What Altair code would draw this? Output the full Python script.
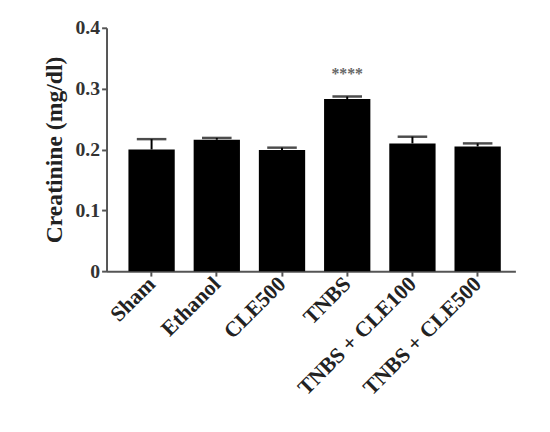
import altair as alt
import pandas as pd

groups = ["Sham", "Ethanol", "CLE500", "TNBS", "TNBS + CLE100", "TNBS + CLE500"]
means = [0.200, 0.216, 0.199, 0.283, 0.210, 0.205]
errors = [0.017, 0.003, 0.004, 0.004, 0.011, 0.005]
sig_labels = ["", "", "", "****", "", ""]
y_ticks = [0, 0.1, 0.2, 0.3, 0.4]

df = pd.DataFrame({"group": groups, "mean": means, "err": errors, "sig": sig_labels})
df["upper"] = df["mean"] + df["err"]
df["star_y"] = df["upper"] + 0.037

FONT = "Liberation Serif"

x = alt.X("group:N", sort=groups, title=None,
          scale=alt.Scale(paddingInner=0.29, paddingOuter=0.28, align=0.6),
          axis=alt.Axis(labelAngle=-45, labelFont=FONT, labelFontSize=22,
                        labelFontWeight="bold", labelColor="#222",
                        labelAlign="right", labelBaseline="middle",
                        labelPadding=4,
                        domainColor="#555", domainWidth=2,
                        tickColor="#555", tickWidth=2, tickSize=5))

y_scale = alt.Scale(domain=[0, 0.4], nice=False)

bars = alt.Chart(df).mark_bar(color="black").encode(
    x=x,
    y=alt.Y("mean:Q", scale=y_scale, title="Creatinine (mg/dl)",
            axis=alt.Axis(values=y_ticks, format="~g", labelFont=FONT,
                          labelFontSize=20, labelFontWeight="bold",
                          labelColor="#333", labelPadding=2,
                          titleFont=FONT, titleFontSize=24,
                          titleFontWeight="bold", titleColor="#222",
                          titlePadding=9,
                          domainColor="#555", domainWidth=2,
                          tickColor="#555", tickWidth=2, tickSize=5,
                          grid=False)),
)

err_rule = alt.Chart(df).mark_rule(color="black", strokeWidth=2).encode(
    x=alt.X("group:N", sort=groups),
    y=alt.Y("mean:Q", scale=y_scale),
    y2="upper:Q",
)

err_cap = alt.Chart(df).mark_tick(color="black", thickness=2.5, size=30).encode(
    x=alt.X("group:N", sort=groups),
    y=alt.Y("upper:Q", scale=y_scale),
)

stars = alt.Chart(df).mark_text(font=FONT, fontSize=16, fontWeight="bold",
                                color="#666", baseline="middle").encode(
    x=alt.X("group:N", sort=groups),
    y=alt.Y("star_y:Q", scale=y_scale),
    text="sig:N",
)

chart = (bars + err_rule + err_cap + stars).properties(
    width=415, height=247,
    background="white",
    autosize=alt.AutoSizeParams(type="none"),
    padding={"left": 100, "top": 17, "right": 27, "bottom": 150},
).configure_view(stroke=None)

chart.save("out.html", embed_options={"renderer": "svg", "actions": False})
